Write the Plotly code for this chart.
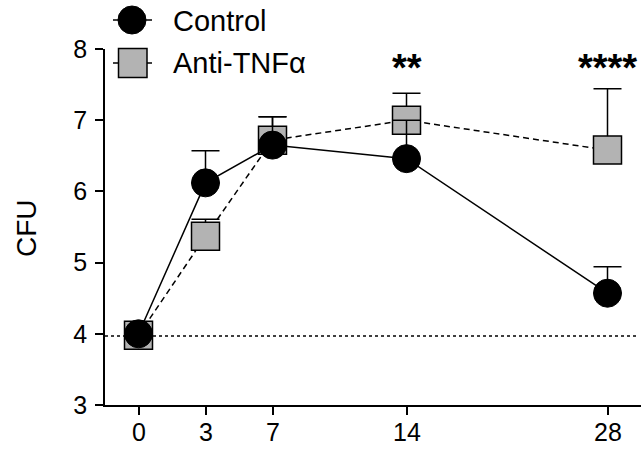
import plotly.graph_objects as go

# ---------------- data ----------------
days = [0, 3, 7, 14, 28]
day_axis_pos = [0, 1, 2, 4, 7]          # custom (segmented) spacing used on the x axis
control_mean = [4.00, 6.12, 6.65, 6.46, 4.57]
control_err = [0.0, 0.45, 0.40, 0.54, 0.37]
anti_mean = [3.98, 5.37, 6.72, 7.00, 6.58]
anti_err = [0.0, 0.24, 0.33, 0.38, 0.86]
detection_limit = 3.97
sig_labels = ["", "", "", "**", "****"]
y_ticks = [3, 4, 5, 6, 7, 8]

FONT = "Arial, Liberation Sans, Helvetica, sans-serif"
W, H = 642, 449
L, R, T, B = 105, 641, 49, 405   # plot area in page pixels


def px(xp):
    return (xp - L) / (R - L)


def py(yp):
    return (B - yp) / (B - T)


fig = go.Figure()

fig.add_trace(go.Scatter(
    x=day_axis_pos, y=anti_mean, name="Anti-TNFα", mode="lines+markers",
    line=dict(color="black", width=1.5, dash="6px,4px"),
    marker=dict(symbol="square", size=28, color="#b3b3b3",
                line=dict(color="black", width=1.5)),
    error_y=dict(type="data", array=anti_err, arrayminus=[0] * len(anti_err),
                 symmetric=False, color="black", thickness=1.5, width=14),
    showlegend=False, hoverinfo="skip",
))

fig.add_trace(go.Scatter(
    x=day_axis_pos, y=control_mean, name="Control", mode="lines+markers",
    line=dict(color="black", width=1.5),
    marker=dict(symbol="circle", size=28, color="black",
                line=dict(color="black", width=1)),
    error_y=dict(type="data", array=control_err, arrayminus=[0] * len(control_err),
                 symmetric=False, color="black", thickness=1.5, width=14),
    showlegend=False, hoverinfo="skip",
))

shapes = [
    dict(type="line", xref="paper", yref="y", x0=0, x1=px(636),
         y0=detection_limit, y1=detection_limit,
         line=dict(color="black", width=1.5, dash="dot"), layer="below"),
    # legend: Control
    dict(type="line", xref="paper", yref="paper", x0=px(113), x1=px(152),
         y0=py(20), y1=py(20), line=dict(color="black", width=1.5)),
    dict(type="circle", xref="paper", yref="paper", x0=px(118), x1=px(146),
         y0=py(34), y1=py(6), fillcolor="black", line=dict(color="black", width=1)),
    # legend: Anti-TNFα
    dict(type="line", xref="paper", yref="paper", x0=px(113), x1=px(152),
         y0=py(63), y1=py(63), line=dict(color="black", width=1.5)),
    dict(type="rect", xref="paper", yref="paper", x0=px(118.5), x1=px(147),
         y0=py(77.5), y1=py(48.5), fillcolor="#b3b3b3",
         line=dict(color="black", width=1.5)),
]

annotations = [
    dict(text="Control", x=px(171), y=py(21), xref="paper", yref="paper",
         xanchor="left", yanchor="middle", showarrow=False,
         font=dict(family=FONT, size=29, color="black")),
    dict(text="Anti-TNFα", x=px(171), y=py(63), xref="paper", yref="paper",
         xanchor="left", yanchor="middle", showarrow=False,
         font=dict(family=FONT, size=29, color="black")),
    dict(text="CFU", x=px(26), y=py(228), xref="paper", yref="paper",
         xanchor="center", yanchor="middle", textangle=-90, showarrow=False,
         font=dict(family=FONT, size=28, color="black")),
]
for xp, lab in zip(day_axis_pos, sig_labels):
    if lab:
        annotations.append(dict(
            text=f"<b>{lab}</b>", x=xp, y=py(68), xref="x", yref="paper",
            xanchor="center", yanchor="middle", showarrow=False,
            font=dict(family=FONT, size=38, color="black")))
# x tick labels (placed as text so they sit at the reference's distance)
for xp, d in zip(day_axis_pos, days):
    annotations.append(dict(
        text=str(d), x=xp, y=py(432), xref="x", yref="paper",
        xanchor="center", yanchor="middle", showarrow=False,
        font=dict(family=FONT, size=25, color="black")))

fig.update_layout(
    width=W, height=H,
    margin=dict(l=L, r=W - R, t=T, b=H - B),
    paper_bgcolor="white", plot_bgcolor="white",
    font=dict(family=FONT, color="black"),
    shapes=shapes, annotations=annotations,
    hovermode=False,
    xaxis=dict(range=[-0.5, 7.5], tickvals=day_axis_pos, showticklabels=False,
               showgrid=False, zeroline=False, showline=True, linecolor="black",
               linewidth=1.8, ticks="outside", ticklen=8, tickwidth=1.5,
               tickcolor="black"),
    yaxis=dict(range=[3, 8], tickvals=y_ticks, showgrid=False, zeroline=False,
               showline=True, linecolor="black", linewidth=1.8, ticks="outside",
               ticklen=8, tickwidth=1.5, tickcolor="black", ticklabelstandoff=3,
               tickfont=dict(family=FONT, size=25, color="black")),
)

fig.write_html(
    "out.html",
    config={"displayModeBar": False},
    post_script="document.body.style.margin='0';document.body.style.overflow='hidden';",
)
